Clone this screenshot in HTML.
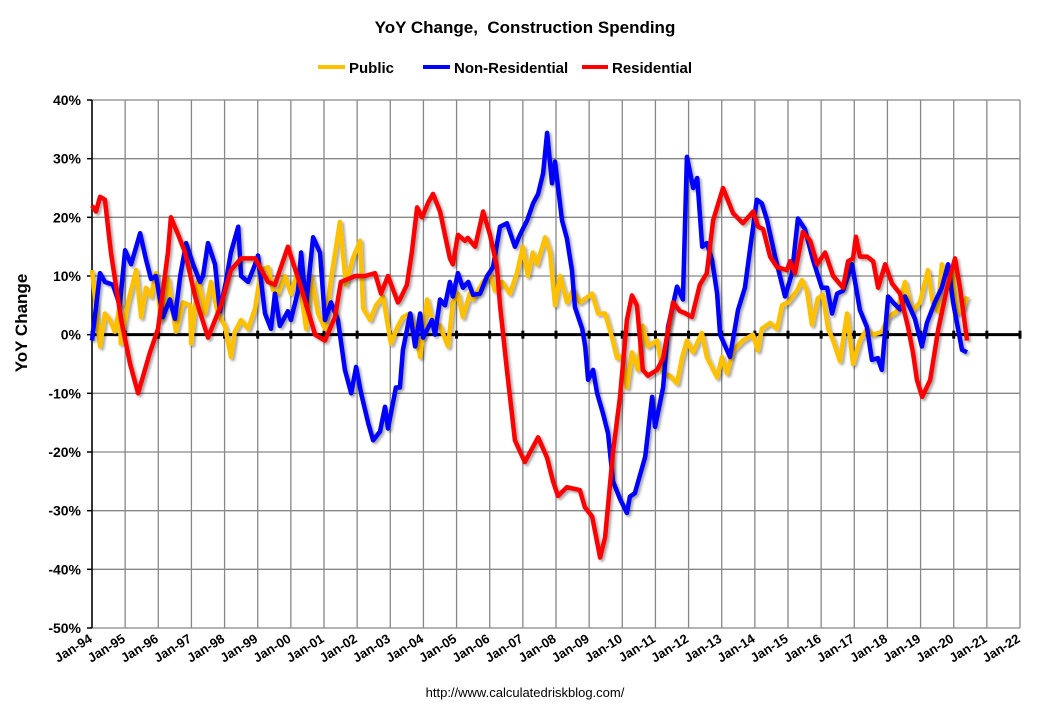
<!DOCTYPE html>
<html><head><meta charset="utf-8"><style>
body{margin:0;background:#fff}
svg text{font-family:"Liberation Sans",Arial,sans-serif}
</style></head><body>
<svg id="chart" width="1050" height="707" viewBox="0 0 1050 707" xmlns="http://www.w3.org/2000/svg">
<defs><filter id="sh" x="-5%" y="-5%" width="110%" height="110%"><feDropShadow dx="2" dy="2" stdDeviation="1.2" flood-color="#000" flood-opacity="0.35"/></filter></defs>
<text x="525" y="33" text-anchor="middle" font-size="17" font-weight="bold">YoY Change,&#160; Construction Spending</text>
<g font-size="15" font-weight="bold">
 <g><line x1="318" y1="67" x2="345" y2="67" stroke="#FFC000" stroke-width="4"/><text x="349" y="73">Public</text></g>
 <g><line x1="423" y1="67" x2="450" y2="67" stroke="#0000FF" stroke-width="4"/><text x="454" y="73">Non-Residential</text></g>
 <g><line x1="582" y1="67" x2="608" y2="67" stroke="#FF0000" stroke-width="4"/><text x="612" y="73">Residential</text></g>
</g>
<text transform="translate(27,323) rotate(-90)" text-anchor="middle" font-size="17" font-weight="bold">YoY Change</text>
<g id="grid"></g>
<g id="axes"></g>
<g id="series"></g>
<text x="525" y="697" text-anchor="middle" font-size="13">http://www.calculatedriskblog.com/</text>
</svg>
<script>
const yTicks=[40,30,20,10,0,-10,-20,-30,-40,-50];
const xLabels=["Jan-94","Jan-95","Jan-96","Jan-97","Jan-98","Jan-99","Jan-00","Jan-01","Jan-02","Jan-03","Jan-04","Jan-05","Jan-06","Jan-07","Jan-08","Jan-09","Jan-10","Jan-11","Jan-12","Jan-13","Jan-14","Jan-15","Jan-16","Jan-17","Jan-18","Jan-19","Jan-20","Jan-21","Jan-22"];
// time in years since Jan-94
const resT=[0,0.12,0.24,0.39,0.57,0.88,1.15,1.39,1.75,1.99,2.29,2.38,2.60,2.81,3.11,3.50,3.89,4.19,4.50,4.92,5.31,5.52,5.91,6.31,6.73,7.03,7.33,7.51,7.94,8.24,8.54,8.72,8.93,9.23,9.29,9.50,9.65,9.81,9.96,10.14,10.29,10.50,10.80,10.89,11.04,11.25,11.34,11.56,11.80,12.01,12.22,12.31,12.52,12.76,13.06,13.27,13.46,13.73,13.91,14.06,14.33,14.72,14.87,15.09,15.33,15.48,15.72,15.93,16.14,16.29,16.44,16.62,16.77,17.05,17.23,17.53,17.74,17.89,18.10,18.34,18.55,18.74,19.04,19.34,19.64,19.95,20.10,20.25,20.46,20.67,20.97,21.06,21.21,21.45,21.67,21.88,22.12,22.36,22.66,22.81,22.96,23.05,23.17,23.39,23.57,23.72,23.93,24.14,24.38,24.62,24.77,24.89,25.05,25.29,25.53,25.80,26.04,26.19,26.40];
const resV=[22,21,23.5,23,14,2.5,-5,-10,-3,1,14,20,17,14,6.5,-0.5,5,11,13,13,9,8.5,15,8,0,-1,3,9,10,10,10.5,7,10,5.5,6,8.5,14,21.7,20,22.5,24,21,13,12,17,16,16.5,15,21,17,11.5,5,-6,-18,-21.7,-19.5,-17.5,-21,-25,-27.5,-26,-26.5,-29.4,-31,-38,-34.5,-20,-10.6,2.5,6.7,5,-6,-7,-6,-4,5.5,4,3.7,3,8.5,10.5,19.5,25,20.7,19,21,18.4,18,13.3,11.5,11,12.5,10.5,17.5,16,12,14,10,8,12.5,13,16.7,13.3,13.3,12.5,8,12,8.7,7,1.3,-3,-7.7,-10.6,-7.7,0.8,8,13,8,-1];
const nonT=[0,0.24,0.39,0.63,0.84,1.00,1.18,1.45,1.63,1.78,1.93,2.14,2.35,2.50,2.66,2.84,3.05,3.26,3.35,3.50,3.71,3.86,4.04,4.19,4.41,4.50,4.71,4.92,5.01,5.22,5.40,5.52,5.67,5.91,6.00,6.22,6.31,6.46,6.67,6.88,7.03,7.21,7.42,7.63,7.82,7.97,8.12,8.33,8.48,8.69,8.84,8.93,9.17,9.29,9.38,9.60,9.75,9.90,9.99,10.26,10.35,10.50,10.65,10.80,10.89,11.04,11.19,11.35,11.50,11.71,11.92,12.10,12.31,12.52,12.76,12.91,13.13,13.31,13.46,13.61,13.73,13.88,13.97,14.18,14.33,14.48,14.57,14.79,14.88,14.97,15.12,15.24,15.42,15.57,15.72,15.93,16.14,16.23,16.38,16.48,16.69,16.90,16.99,17.23,17.38,17.65,17.83,17.95,18.14,18.26,18.41,18.55,18.71,18.86,18.95,19.25,19.49,19.70,19.85,20.06,20.21,20.37,20.61,20.91,21.12,21.30,21.51,21.75,22.02,22.18,22.33,22.48,22.66,22.93,23.17,23.38,23.53,23.71,23.83,24.02,24.17,24.38,24.53,24.83,25.04,25.19,25.43,25.64,25.83,25.98,26.25,26.40];
const nonV=[-1,10.5,9,8.5,5,14.4,12,17.3,12.8,9.5,10,3,6,2.7,10,15.6,12,9,10,15.6,12,4,9,14,18.4,10,9,12,13.5,3.6,1,7,1.5,4,2.5,7.5,14,5,16.6,14,2.5,5.5,2.5,-6,-10,-5.5,-10,-15,-18,-16.5,-12.3,-16,-9,-9,-2.6,3.6,-2,3.6,-0.5,2.5,0,6,5,9,6.5,10.5,8,9,6.8,7,10,11.5,18.4,19,15,17,19.5,22.4,24,27.5,34.4,25.8,29.5,19.5,16.4,11,4.7,1,-2,-7.7,-6,-10,-13.5,-16.8,-25,-28,-30.4,-27.6,-27,-25,-20.8,-10.6,-15.7,-9,1.3,8.2,6,30.3,25,26.7,15,15.6,12.7,7,0,-3.8,4.2,8,14.4,23,22.4,19.5,13.3,6.5,10.5,19.8,18,12.8,8,8,3.6,7,7.5,12,4.2,1.3,-4.3,-4,-6,6.5,5.5,4.3,6.5,2.7,-2,2,5.5,8,12,5.5,-2.6,-3];
const pubT=[0,0.24,0.39,0.54,0.69,0.84,0.87,1.09,1.33,1.48,1.63,1.78,1.93,2.08,2.29,2.53,2.75,2.96,2.99,3.20,3.41,3.59,3.80,4.01,4.19,4.31,4.50,4.71,4.92,5.10,5.31,5.46,5.61,5.82,6.00,6.22,6.46,6.61,6.82,7.03,7.21,7.48,7.66,7.87,8.09,8.18,8.39,8.57,8.78,9.02,9.23,9.38,9.59,9.75,9.90,10.11,10.26,10.50,10.74,10.89,11.04,11.19,11.40,11.49,11.80,12.01,12.16,12.37,12.61,12.82,13.00,13.15,13.30,13.43,13.67,13.82,13.97,14.12,14.33,14.51,14.72,15.09,15.27,15.48,15.69,15.84,15.99,16.14,16.29,16.47,16.62,16.77,17.05,17.23,17.44,17.65,17.80,17.95,18.13,18.40,18.55,18.86,19.01,19.16,19.34,19.64,19.94,20.09,20.21,20.46,20.67,20.82,21.00,21.27,21.42,21.57,21.72,21.90,22.05,22.21,22.36,22.57,22.78,22.96,23.17,23.38,23.56,23.83,24.02,24.29,24.53,24.74,24.98,25.22,25.37,25.52,25.64,25.80,25.95,26.10,26.28,26.40];
const pubV=[11,-2,3.6,2.5,0.5,5,-1.5,5.5,11,3,8,6.5,10.5,2.5,9.5,0.5,5.5,5,-1.5,9.5,3.6,9,3.6,1.5,-3.8,0.5,2.5,1,4.5,11,11.5,7.6,7,10,7,11,1,10,3.6,1,9.5,19.2,8.5,13,16,4.5,2.5,5,6.5,-1.5,1.5,3,3.6,1,-3.8,6,2.5,1.5,-2,5.5,7,3,7,6,9,10.5,7.5,9,7,10.5,15,10,14,12,16.6,14,5,10,5.5,7.6,5.5,7,3.6,3.6,-0.5,-4,-3.6,-9,-3,-6,1.5,-2,-1,-6.6,-7,-8.3,-4,-1,-3,0.3,-3.8,-7.3,-3.8,-6.6,-2.7,-1,0,-2.7,1,2,1,5,5.5,7.5,9.3,7.5,1.7,6.2,6.8,1,-1,-4.5,3.6,-5,-1,1,0,0.5,3,4,9,4,5.5,11,5.5,4,12,9,11.5,3.6,4.5,6.5];

const L=92,R=1020,T=100,B=628,yMax=40,yMin=-50,years=28;
const xS=t=>L+t*(R-L)/years;
const yS=v=>T+(yMax-v)*(B-T)/(yMax-yMin);
const NS="http://www.w3.org/2000/svg";
function mk(tag,attrs,parent){const e=document.createElementNS(NS,tag);for(const k in attrs)e.setAttribute(k,attrs[k]);parent.appendChild(e);return e;}
const grid=document.getElementById('grid'),axes=document.getElementById('axes'),ser=document.getElementById('series');
for(let i=0;i<=years;i++){
  const l=mk('line',{x1:xS(i),x2:xS(i),y1:T,y2:B,stroke:'#888','stroke-width':1.3},grid);
  
  
  const tk=mk('line',{x1:xS(i),x2:xS(i),y1:yS(0)-4,y2:yS(0)+4,stroke:'#000','stroke-width':3},axes);
  
  
  const x=xS(i)+1,y=B+13;
  const tx=mk('text',{x:x,y:y,'text-anchor':'end','font-size':13,'font-weight':'bold',transform:`rotate(-32 ${x} ${y})`},axes);
  tx.textContent=xLabels[i];
  
  
}
yTicks.forEach(v=>{
  const l=mk('line',{x1:L,x2:R,y1:yS(v),y2:yS(v),stroke:'#888','stroke-width':1.3},grid);
  
  
  const tk=mk('line',{x1:L-5,x2:L,y1:yS(v),y2:yS(v),stroke:'#000','stroke-width':1.5},axes);
  
  
  const tx=mk('text',{x:L-11,y:yS(v)+5,'text-anchor':'end','font-size':14,'font-weight':'bold'},axes);
  tx.textContent=v+'%';
  
  
});
const yAx=mk('line',{x1:L,x2:L,y1:T,y2:B,stroke:'#000','stroke-width':1.5},axes);


const zero=mk('line',{x1:L,x2:R,y1:yS(0),y2:yS(0),stroke:'#000','stroke-width':3},axes);


function draw(ts,vs,color,name){
  const d=ts.map((t,i)=>(i?'L':'M')+xS(t).toFixed(1)+','+yS(vs[i]).toFixed(1)).join('');
  const p=mk('path',{d:d,fill:'none',stroke:color,'stroke-width':4.5,'stroke-linejoin':'round',filter:'url(#sh)'},ser);
  
  
}
draw(pubT,pubV,'#FFC000','public-line');
draw(nonT,nonV,'#0000FF','non-residential-line');
draw(resT,resV,'#FF0000','residential-line');
</script>
</body></html>
